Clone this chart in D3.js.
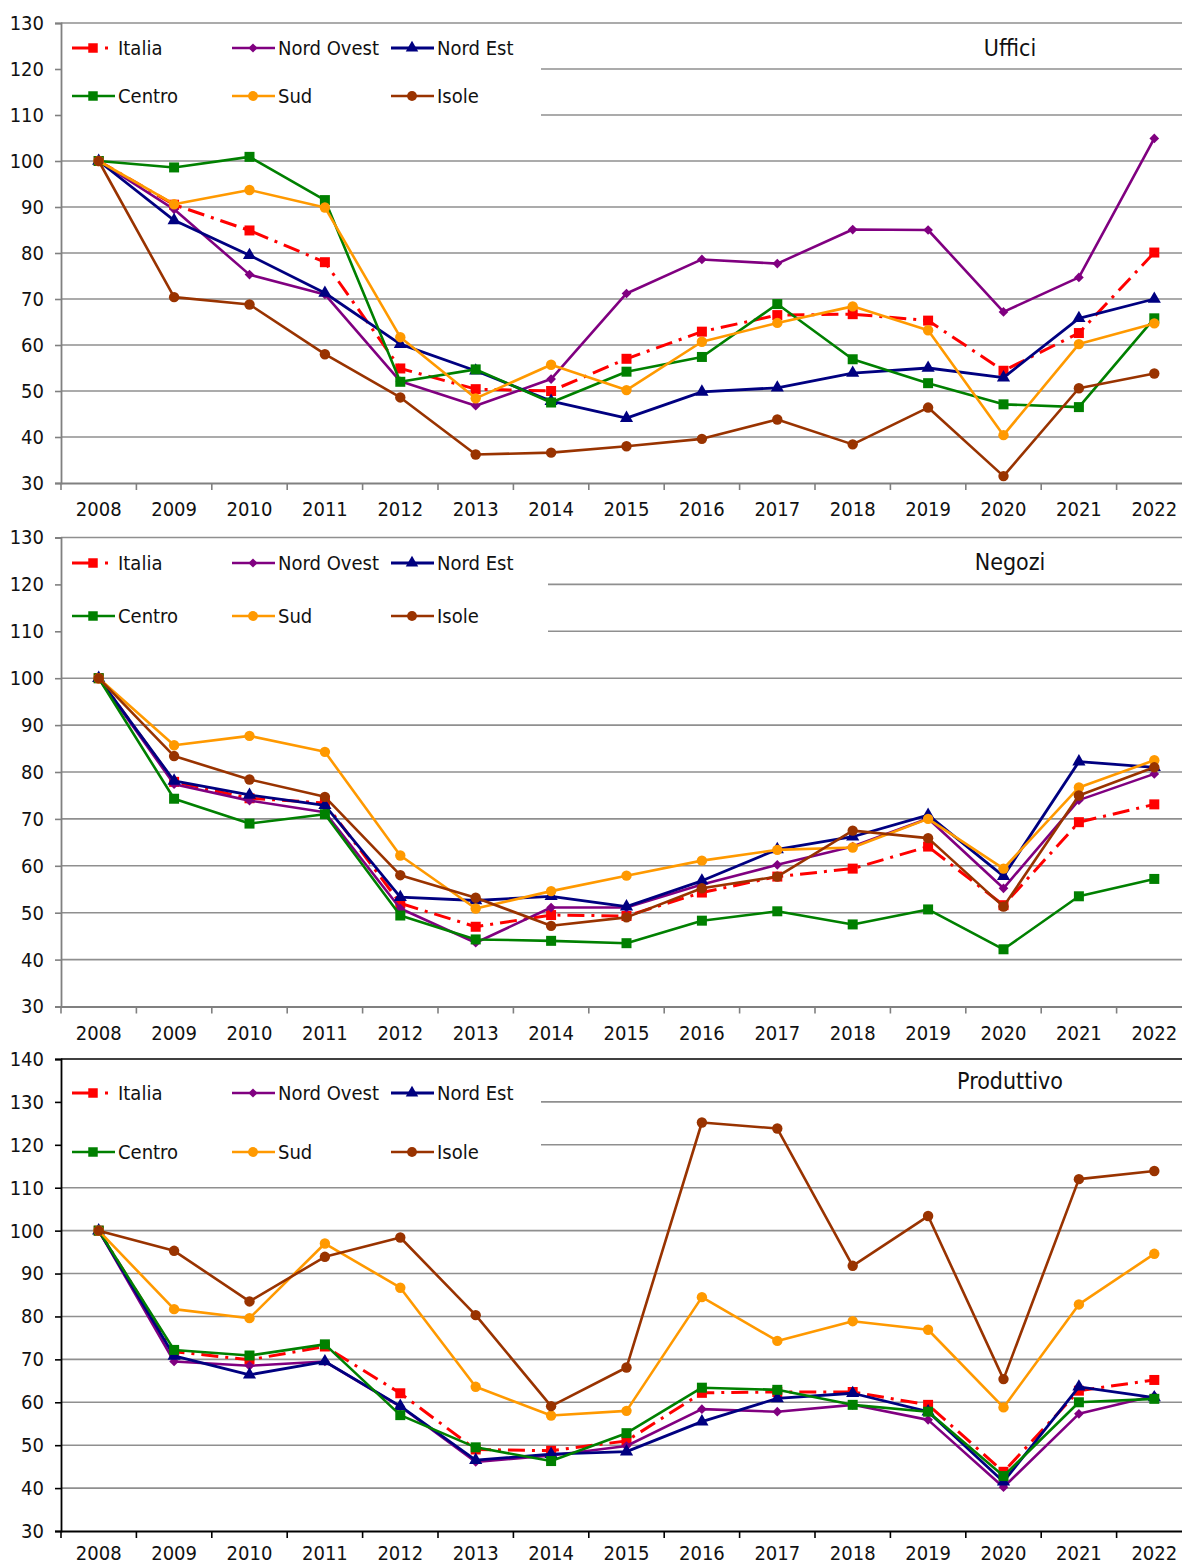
<!DOCTYPE html>
<html>
<head>
<meta charset="utf-8">
<script src="https://cdn.jsdelivr.net/npm/d3@7"></script>
<style>
  html, body { margin: 0; padding: 0; background: #fff; }
  svg { display: block; }
  text { font-family: "DejaVu Sans Condensed", "DejaVu Sans", sans-serif; font-stretch: condensed; fill: #111; }
</style>
</head>
<body>
<svg id="chart" width="1182" height="1564"></svg>
<script>
// Years on the category axis
const years = ["2008","2009","2010","2011","2012","2013","2014","2015","2016","2017","2018","2019","2020","2021","2022"];

// Area names (legend order)
const regions = ["Italia", "Nord Ovest", "Nord Est", "Centro", "Sud", "Isole"];

// Uffici index (2008 = 100)
const ufficiItalia    = [100, 90.5, 84.9, 78.0, 54.9, 50.4, 50.0, 57.0, 62.9, 66.5, 66.7, 65.3, 54.4, 62.6, 80.1];
const ufficiNordOvest = [100, 89.5, 75.3, 71.0, 52.1, 46.8, 52.6, 71.2, 78.6, 77.7, 85.1, 85.0, 67.2, 74.7, 104.9];
const ufficiNordEst   = [100, 87.1, 79.5, 71.3, 60.2, 54.4, 47.8, 44.1, 49.8, 50.7, 53.9, 55.0, 52.9, 65.8, 70.0];
const ufficiCentro    = [100, 98.6, 100.9, 91.5, 52.0, 54.7, 47.5, 54.2, 57.4, 68.9, 56.9, 51.7, 47.1, 46.5, 65.8];
const ufficiSud       = [100, 90.6, 93.7, 89.9, 61.7, 48.4, 55.7, 50.2, 60.7, 64.8, 68.4, 63.2, 40.4, 60.2, 64.7];
const ufficiIsole     = [100, 70.4, 68.8, 58.0, 48.6, 36.2, 36.6, 38.0, 39.6, 43.8, 38.4, 46.4, 31.5, 50.6, 53.8];

// Negozi index (2008 = 100)
const negoziItalia    = [100, 77.9, 74.4, 73.4, 52.0, 47.0, 49.5, 49.3, 54.3, 57.7, 59.4, 64.1, 51.6, 69.3, 73.1];
const negoziNordOvest = [100, 77.4, 73.9, 71.4, 50.9, 43.6, 51.1, 51.1, 56.0, 60.2, 64.1, 70.1, 55.2, 74.0, 79.6];
const negoziNordEst   = [100, 78.1, 75.1, 72.9, 53.3, 52.6, 53.5, 51.3, 56.8, 63.5, 66.2, 70.8, 57.8, 82.2, 81.0];
const negoziCentro    = [100, 74.3, 69.0, 71.0, 49.4, 44.3, 44.0, 43.5, 48.3, 50.3, 47.5, 50.7, 42.2, 53.5, 57.2];
const negoziSud       = [100, 85.7, 87.7, 84.3, 62.2, 50.9, 54.6, 57.9, 61.1, 63.4, 63.9, 70.0, 59.4, 76.7, 82.5];
const negoziIsole     = [100, 83.4, 78.4, 74.7, 58.0, 53.2, 47.2, 49.0, 55.2, 57.7, 67.5, 65.9, 51.3, 75.0, 81.0];

// Produttivo index (2008 = 100)
const prodItalia      = [100, 71.8, 69.9, 73.0, 62.1, 49.0, 48.7, 51.0, 62.2, 62.4, 62.4, 59.4, 43.8, 62.7, 65.2];
const prodNordOvest   = [100, 69.5, 68.5, 69.5, 59.0, 46.1, 47.6, 49.8, 58.4, 57.8, 59.4, 55.9, 40.2, 57.3, 61.5];
const prodNordEst     = [100, 70.8, 66.4, 69.5, 59.1, 46.5, 47.9, 48.5, 55.5, 60.9, 62.1, 57.8, 41.5, 63.6, 61.1];
const prodCentro      = [100, 72.2, 70.9, 73.5, 57.0, 49.5, 46.3, 52.8, 63.4, 62.9, 59.4, 57.8, 42.8, 60.0, 60.8];
const prodSud         = [100, 81.7, 79.6, 97.0, 86.7, 63.6, 56.9, 58.0, 84.5, 74.3, 78.9, 76.9, 58.8, 82.8, 94.6];
const prodIsole       = [100, 95.3, 83.5, 93.9, 98.4, 80.3, 59.1, 68.1, 125.2, 123.8, 91.8, 103.4, 65.4, 112.0, 113.9];

// Y-axis tick values per panel
const ticksUffici = [30, 40, 50, 60, 70, 80, 90, 100, 110, 120, 130];
const ticksNegozi = [30, 40, 50, 60, 70, 80, 90, 100, 110, 120, 130];
const ticksProd   = [30, 40, 50, 60, 70, 80, 90, 100, 110, 120, 130, 140];

// Panel titles
const titles = ["Uffici", "Negozi", "Produttivo"];

// Series styling
const styles = {
  "Italia":     { color: "#ff0000", marker: "square",   dash: "17,7,3,7", width: 3 },
  "Nord Ovest": { color: "#800080", marker: "diamond",  dash: null, width: 2.6 },
  "Nord Est":   { color: "#000080", marker: "triangle", dash: null, width: 2.8 },
  "Centro":     { color: "#008000", marker: "square",   dash: null, width: 2.6 },
  "Sud":        { color: "#ff9900", marker: "circle",   dash: null, width: 2.6 },
  "Isole":      { color: "#993300", marker: "circle",   dash: null, width: 2.6 }
};

const markerSymbol = {
  square:   { type: d3.symbolSquare,   size: 100 },
  diamond:  { type: d3.symbolDiamond2, size: 60 },
  triangle: { type: d3.symbolTriangle, size: 75 },
  circle:   { type: d3.symbolCircle,   size: 85 }
};

const panels = [
  { title: titles[0], ticks: ticksUffici, domain: [30, 130], top: 23,   bottom: 483,
    axisColor: "#808080", topBorder: false, labelPad: 19,
    legendRows: [48, 96], legendBottom: 124, legendRight: 541, titleY: 56,
    series: [ufficiItalia, ufficiNordOvest, ufficiNordEst, ufficiCentro, ufficiSud, ufficiIsole] },
  { title: titles[1], ticks: ticksNegozi, domain: [30, 130], top: 537.5, bottom: 1006.5,
    axisColor: "#808080", topBorder: false, labelPad: 19,
    legendRows: [563, 616], legendBottom: 645, legendRight: 548, titleY: 570,
    series: [negoziItalia, negoziNordOvest, negoziNordEst, negoziCentro, negoziSud, negoziIsole] },
  { title: titles[2], ticks: ticksProd, domain: [30, 140], top: 1059, bottom: 1531,
    axisColor: "#000000", topBorder: true, labelPad: 15,
    legendRows: [1093, 1152], legendBottom: 1175, legendRight: 541, titleY: 1089,
    series: [prodItalia, prodNordOvest, prodNordEst, prodCentro, prodSud, prodIsole] }
];

const svg = d3.select("#chart");
const plotLeft = 61, plotRight = 1192;
const fontStack = "\"DejaVu Sans Condensed\", \"DejaVu Sans\", sans-serif";

const x = d3.scaleBand().domain(years).range([plotLeft, plotRight]).padding(0);
const cx = d => x(d) + x.bandwidth() / 2;

const legendCols = [72, 232, 391];

panels.forEach(p => {
  const g = svg.append("g");
  const y = d3.scaleLinear().domain(p.domain).range([p.bottom, p.top]);

  // Horizontal gridlines
  g.append("g")
    .selectAll("line")
    .data(p.ticks.filter(t => t > p.domain[0]))
    .join("line")
    .attr("x1", plotLeft).attr("x2", plotRight)
    .attr("y1", d => y(d)).attr("y2", d => y(d))
    .attr("stroke", (d) => (p.topBorder && d === p.domain[1]) ? "#000" : "#8f8f8f")
    .attr("stroke-width", 1.6);

  // Legend background covers the gridlines behind it
  g.append("rect")
    .attr("x", plotLeft + 1).attr("y", p.top + 1.5)
    .attr("width", p.legendRight - plotLeft - 1)
    .attr("height", p.legendBottom - p.top - 1.5)
    .attr("fill", "#fff");

  // Y axis
  const yAxis = d3.axisLeft(y).tickValues(p.ticks).tickSize(6).tickPadding(11).tickFormat(d3.format("d"));
  const ya = g.append("g").attr("transform", `translate(${plotLeft},0)`).call(yAxis);
  ya.select(".domain").attr("stroke", p.axisColor).attr("stroke-width", 1.8);
  ya.selectAll(".tick line").attr("stroke", p.axisColor).attr("stroke-width", 1.6);
  ya.selectAll(".tick text").attr("font-size", 20).attr("fill", "#111")
    .attr("font-family", fontStack);

  // X axis (ticks between categories)
  const xAxis = d3.axisBottom(x).tickSize(0).tickPadding(p.labelPad);
  const xa = g.append("g").attr("transform", `translate(0,${p.bottom})`).call(xAxis);
  xa.select(".domain").attr("stroke", p.axisColor).attr("stroke-width", 1.8);
  xa.selectAll(".tick text").attr("font-size", 20).attr("fill", "#111")
    .attr("font-family", fontStack);
  xa.selectAll("line.sep")
    .data(years)
    .join("line").attr("class", "sep")
    .attr("x1", d => x(d)).attr("x2", d => x(d))
    .attr("y1", 0).attr("y2", 7)
    .attr("stroke", p.axisColor).attr("stroke-width", 1.6);

  // Series lines and markers
  const line = d3.line().x((d, i) => cx(years[i])).y(d => y(d));
  regions.forEach((name, si) => {
    const st = styles[name];
    const vals = p.series[si];
    const sg = g.append("g");
    sg.append("path")
      .attr("d", line(vals))
      .attr("fill", "none")
      .attr("stroke", st.color)
      .attr("stroke-width", st.width)
      .attr("stroke-linejoin", "round")
      .attr("stroke-dasharray", st.dash);
    const sym = markerSymbol[st.marker];
    sg.selectAll("path.m")
      .data(vals)
      .join("path").attr("class", "m")
      .attr("transform", (d, i) => `translate(${cx(years[i])},${y(d)})`)
      .attr("d", d3.symbol().type(sym.type).size(sym.size))
      .attr("fill", st.color);
  });

  // Legend entries
  regions.forEach((name, si) => {
    const st = styles[name];
    const lx = legendCols[si % 3];
    const ly = p.legendRows[Math.floor(si / 3)];
    const lg = g.append("g");
    if (st.dash) {
      lg.append("line").attr("x1", lx).attr("x2", lx + 17).attr("y1", ly).attr("y2", ly)
        .attr("stroke", st.color).attr("stroke-width", st.width);
      lg.append("line").attr("x1", lx + 33).attr("x2", lx + 36).attr("y1", ly).attr("y2", ly)
        .attr("stroke", st.color).attr("stroke-width", st.width);
    } else {
      lg.append("line").attr("x1", lx).attr("x2", lx + 43).attr("y1", ly).attr("y2", ly)
        .attr("stroke", st.color).attr("stroke-width", st.width);
    }
    const sym = markerSymbol[st.marker];
    lg.append("path")
      .attr("transform", `translate(${lx + 21},${ly})`)
      .attr("d", d3.symbol().type(sym.type).size(sym.size * 0.9))
      .attr("fill", st.color);
    lg.append("text")
      .attr("x", lx + 46).attr("y", ly)
      .attr("dy", "0.35em")
      .attr("font-size", 20)
      .text(name);
  });

  // Panel title
  g.append("text")
    .attr("x", 1010).attr("y", p.titleY)
    .attr("text-anchor", "middle")
    .attr("font-size", 23)
    .text(p.title);
});
</script>
</body>
</html>
